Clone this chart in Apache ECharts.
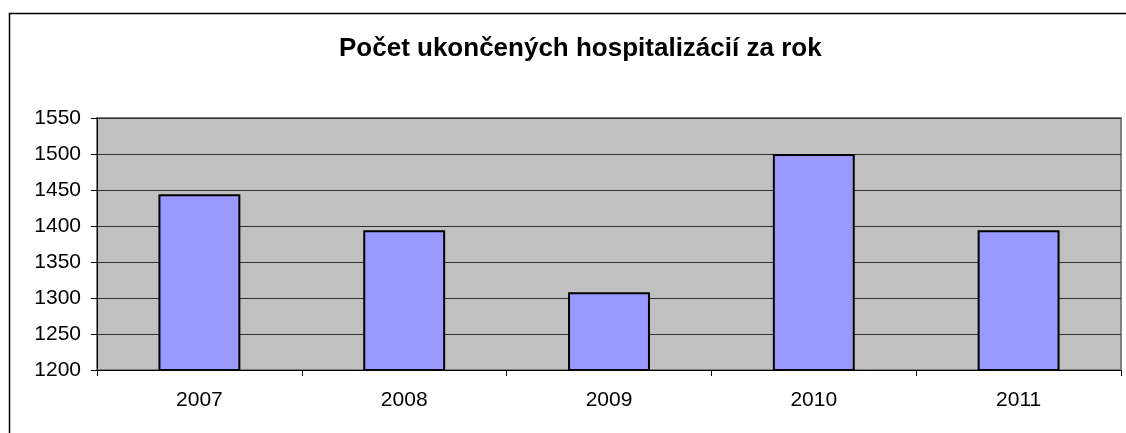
<!DOCTYPE html>
<html>
<head>
<meta charset="utf-8">
<script src="https://cdn.jsdelivr.net/npm/echarts@6/dist/echarts.min.js"></script>
<style>
  html, body { margin: 0; padding: 0; background: #fff; }
  #chart { width: 1126px; height: 433px; }
</style>
</head>
<body>
<div id="chart"></div>
<script>
// data
const years = ['2007', '2008', '2009', '2010', '2011'];
const discharges = [1444, 1394, 1308, 1500, 1394];
const yTicks = [1200, 1550, 50]; // min, max, step

const chart = echarts.init(document.getElementById('chart'));

const option = {
    backgroundColor: '#ffffff',
    animation: false,
    title: {
        text: 'Počet ukončených hospitalizácií za rok',
        left: 334,
        top: 31,
        textStyle: { fontFamily: 'Liberation Sans, Arial', fontSize: 26, fontWeight: 'bold', color: '#000' }
    },
    graphic: [{
        type: 'rect',
        shape: { x: 9.5, y: 13.5, width: 1200, height: 500 },
        style: { fill: 'none', stroke: '#000', lineWidth: 1.5 },
        silent: true,
        z: 0
    }],
    grid: {
        left: 97, top: 118, right: 5, bottom: 63,
        show: true,
        backgroundColor: '#c0c0c0',
        borderColor: '#808080',
        borderWidth: 2
    },
    xAxis: {
        type: 'category',
        data: years,
        axisLine: { lineStyle: { color: '#000', width: 1 } },
        axisTick: { show: true, length: 6, alignWithLabel: false, lineStyle: { color: '#000' } },
        axisLabel: { margin: 20, fontFamily: 'Liberation Sans, Arial', fontSize: 21, color: '#000' }
    },
    yAxis: {
        type: 'value',
        min: yTicks[0],
        max: yTicks[1],
        interval: yTicks[2],
        axisLine: { show: true, lineStyle: { color: '#000', width: 1 } },
        axisTick: { show: true, length: 6, lineStyle: { color: '#000' } },
        splitLine: { show: true, lineStyle: { color: '#303030', width: 1 } },
        axisLabel: {
            margin: 16, fontFamily: 'Liberation Sans, Arial', fontSize: 21, color: '#000',
            formatter: v => String(v)
        }
    },
    series: [{
        type: 'bar',
        data: discharges,
        barWidth: '40%',
        itemStyle: { color: '#9999ff', borderColor: '#000', borderWidth: 2 }
    }]
};

chart.setOption(option);
</script>
</body>
</html>
